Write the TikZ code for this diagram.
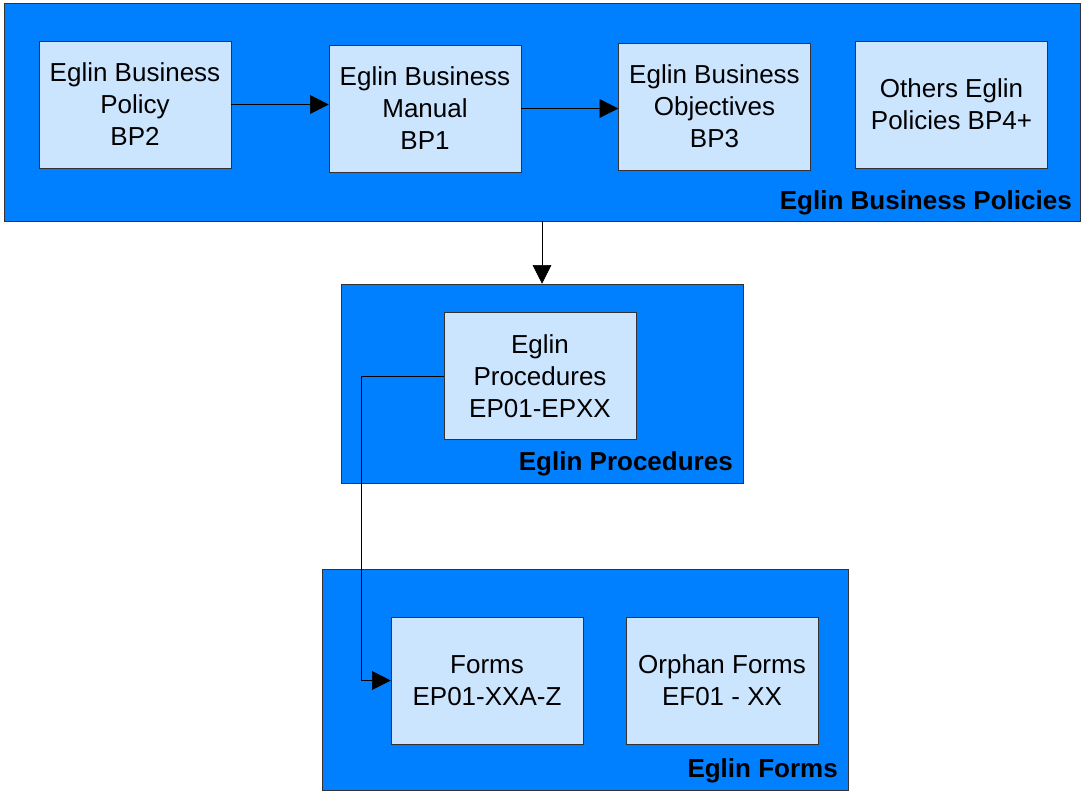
\documentclass[tikz,border=0pt]{standalone}
\usepackage{fontspec}
\setmainfont{Liberation Sans}
\usetikzlibrary{arrows.meta,fit}
\definecolor{groupblue}{RGB}{0,128,255}
\definecolor{itemblue}{RGB}{204,229,255}
\tikzset{
    group/.style={draw=black!80,fill=groupblue,inner sep=0pt},
    item/.style={draw=black!80,fill=itemblue,align=center,minimum width=144pt,minimum height=95pt,
        font=\fontsize{19.5}{24}\selectfont},
    grouplabel/.style={anchor=base east,inner sep=0pt,font=\fontsize{19.5}{24}\selectfont\bfseries},
    link/.style={draw=black,-{Triangle[length=14pt,width=14pt]}}
}
\begin{document}
\begin{tikzpicture}[x=0.75pt,y=-0.75pt]
        \useasboundingbox (0,0) rectangle (1084,792);
        %% Business policies
        \node[group,fit={(4,3) (1080,221)}] (policies) {};
        \node[grouplabel] (policieslabel) at (1072,209) {Eglin Business Policies};
        \node[item] (bp2) at (135,104.5) {Eglin Business\\Policy\\BP2};
        \node[item] (bp1) at (425,108.5) {Eglin Business\\Manual\\BP1};
        \node[item] (bp3) at (714.5,106.5) {Eglin Business\\Objectives\\BP3};
        \node[item] (bp4) at (951.5,104.5) {Others Eglin\\Policies BP4+};
        \draw[link] (bp2.east) -- (bp2.east -| bp1.west);
        \draw[link] (bp1.east) -- (bp1.east -| bp3.west);
        %% Procedures
        \node[group,fit={(341,284) (743,483)}] (procedures) {};
        \node[grouplabel] (procedureslabel) at (733,470) {Eglin Procedures};
        \node[item] (ep) at (540,376) {Eglin\\Procedures\\EP01-EPXX};
        \draw[link] (policies.south -| procedures.north) -- (procedures.north);
        %% Forms
        \node[group,fit={(322,569) (848,790)}] (forms) {};
        \node[grouplabel] (formslabel) at (838,777) {Eglin Forms};
        \node[item] (form) at (487,680.5) {Forms\\EP01-XXA-Z};
        \node[item] (orphan) at (722,680.5) {Orphan Forms\\EF01 - XX};
        \draw[link] (ep.west) -- ++(-82,0) |- (form.west);
    \end{tikzpicture}
\end{document}
